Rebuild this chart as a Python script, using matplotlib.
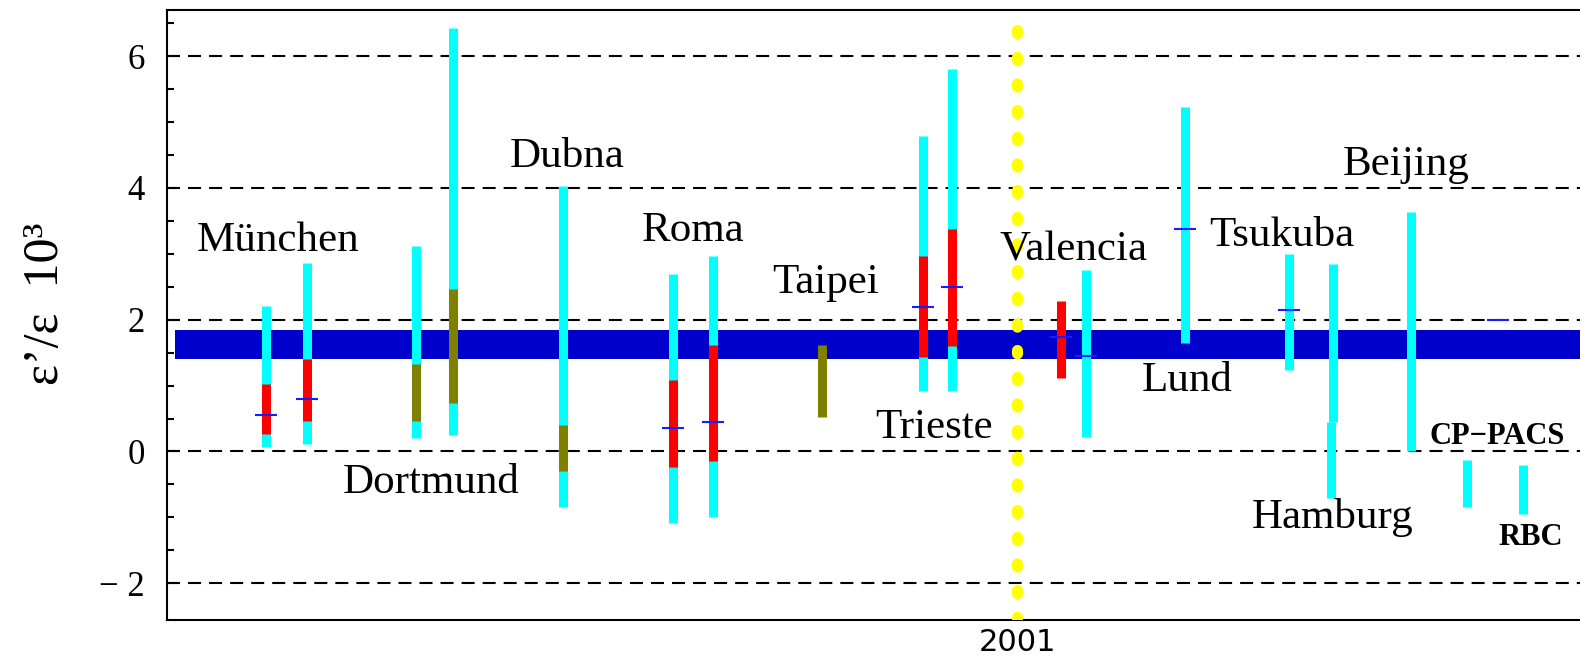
"""
epsilon'/epsilon predictions by group, with the experimental band
"""
import numpy as np
import matplotlib.pyplot as plt
from matplotlib.ticker import FixedLocator

nan = np.nan

# position of each prediction along the horizontal axis (arbitrary units, 0-100)
bar_pos = [7.01, 9.93, 17.62, 20.26, 28.05, 35.79, 38.62, 46.38, 53.48, 55.54,
           63.27, 65.02, 72.05, 79.41, 82.54, 82.38, 88.04, 91.98, 95.94]
# full range of each prediction (cyan)
wide_lo = [0.07, 0.12, 0.20, 0.25, -0.84, -1.09, -1.00, nan, 0.91, 0.91,
           nan, 0.22, 1.64, 1.24, 0.44, -0.71, 0.00, -0.84, -0.95]
wide_hi = [2.21, 2.86, 3.12, 6.42, 4.03, 2.70, 2.97, nan, 4.78, 5.81,
           nan, 2.76, 5.22, 3.00, 2.85, 0.44, 3.64, -0.13, -0.20]
# inner range (red = gaussian, olive = scanning)
core_lo = [0.27, 0.46, 0.46, 0.73, -0.30, -0.24, -0.15, 0.52, 1.43, 1.60,
           1.12, nan, nan, nan, nan, nan, nan, nan, nan]
core_hi = [1.03, 1.41, 1.32, 2.47, 0.40, 1.09, 1.62, 1.62, 2.97, 3.38,
           2.29, nan, nan, nan, nan, nan, nan, nan, nan]
core_kind = ['red', 'red', 'olive', 'olive', 'olive', 'red', 'red', 'olive',
             'red', 'red', 'red', None, None, None, None, None, None, None, None]
# central values
mark_pos = [7.01, 9.93, 35.79, 38.62, 53.48, 55.54, 63.27, 65.02, 72.05, 79.41, 94.20]
mark_val = [0.56, 0.80, 0.36, 0.44, 2.19, 2.49, 1.73, 1.45, 3.37, 2.14, 2.00]

# experimental world average band
band_lo, band_hi = 1.41, 1.85
band_start = 0.57

year_pos = 60.16
year_label = '2001'

groups = ['München', 'Dubna', 'Roma', 'Taipei', 'Trieste', 'Valencia',
          'Dortmund', 'Lund', 'Tsukuba', 'Beijing', 'Hamburg', 'CP\u2212PACS', 'RBC']
group_x = [2.10, 24.27, 33.59, 42.80, 50.11, 58.95,
           12.43, 68.98, 73.74, 83.23, 76.79, 89.38, 94.20]
group_y = [3.04, 4.32, 3.19, 2.41, 0.21, 2.90,
           -0.63, 0.91, 3.12, 4.20, -1.16, 0.12, -1.42]
group_bold = [False] * 11 + [True, True]

yticks = [-2, 0, 2, 4, 6]
yticklabels = ['\u2212 2', '0', '2', '4', '6']

colors = {'red': '#ff0000', 'olive': '#7f7f00'}
serif = 'Liberation Serif'

fig = plt.figure(figsize=(15.8, 6.6), dpi=100)
ax = fig.add_axes([167 / 1580, 40 / 660, 1413 / 1580, 610 / 660])
ax.set_xlim(0, 100)
ax.set_ylim(-2.557, 6.698)

# dashed reference lines
for yv in yticks:
    ax.axhline(yv, color='black', lw=1.5, ls=(0, (6.25, 3.85)), zorder=1)

# experimental band
ax.fill_between([band_start, 100], band_lo, band_hi, color='#0000cc', lw=0, zorder=2)

pos = np.array(bar_pos)
wlo, whi = np.array(wide_lo), np.array(wide_hi)
ok = ~np.isnan(wlo)
ax.vlines(pos[ok], wlo[ok], whi[ok], colors='#00ffff', lw=6.5, zorder=3,
          capstyle='butt')

for p, lo, hi, kind in zip(bar_pos, core_lo, core_hi, core_kind):
    if kind is None:
        continue
    ax.vlines(p, lo, hi, colors=colors[kind], lw=6.5, zorder=4, capstyle='butt')

mp = np.array(mark_pos)
ax.hlines(mark_val, mp - 0.78, mp + 0.78, colors='#1a1aff', lw=1.5, zorder=5)

# year marker
ax.axvline(year_pos, color='#ffff00', lw=8, ls=(0, (0.3, 2.1)),
           dash_capstyle='round', zorder=6)

for name, gx, gy, bold in zip(groups, group_x, group_y, group_bold):
    ax.text(gx, gy, name, family=serif, fontsize=22 if bold else 31,
            fontweight='bold' if bold else 'normal', ha='left', va='baseline',
            zorder=7)

# axes styling
for side in ['left', 'top', 'bottom']:
    ax.spines[side].set_linewidth(1.5)
ax.spines['right'].set_visible(False)

ax.set_yticks(yticks)
ax.set_yticklabels(yticklabels, family=serif, fontsize=25)
ax.yaxis.set_minor_locator(FixedLocator(np.arange(-1.5, 6.6, 0.5)))
ax.tick_params(axis='y', which='major', direction='in', length=8, width=1.5, pad=16)
ax.tick_params(axis='y', which='minor', direction='in', length=5, width=1.5)

ax.set_xticks([year_pos])
ax.set_xticklabels([year_label], family='DejaVu Sans', fontsize=22)
ax.tick_params(axis='x', length=0, pad=6)

fig.text(46 / 1580, 1 - 304 / 660, '\u03b5\u2019/\u03b5  10\u00b3', family=serif,
         fontsize=36, rotation=90, ha='center', va='center')

fig.savefig('out.png', dpi=100)
